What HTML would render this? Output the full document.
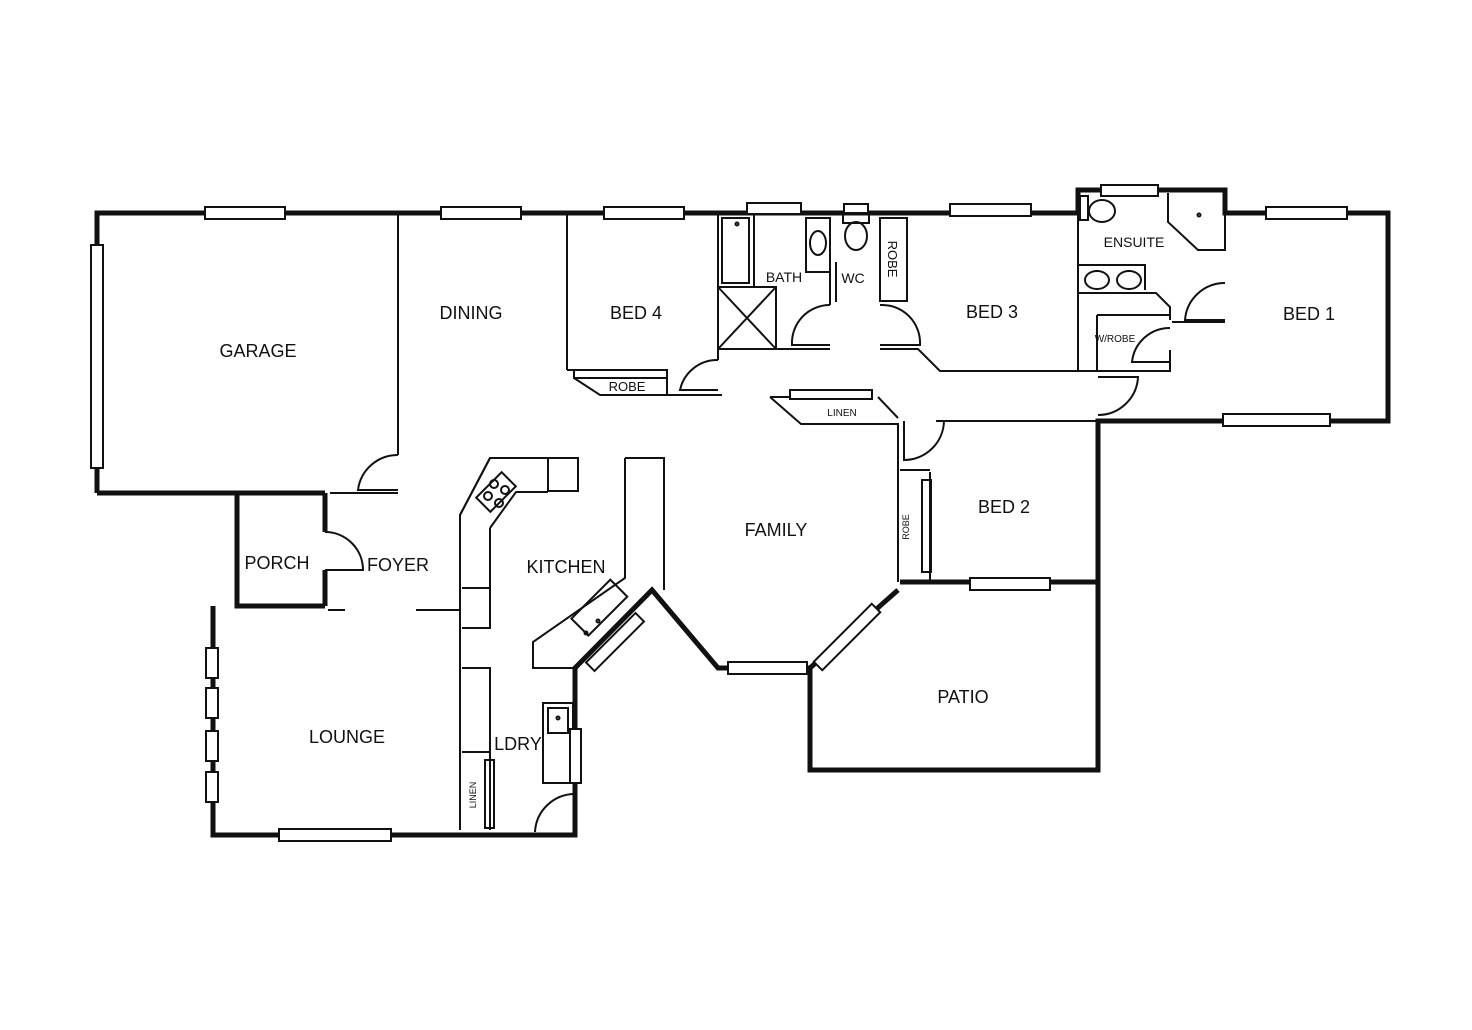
<!DOCTYPE html>
<html><head><style>
html,body{margin:0;padding:0;background:#fff;}
svg{display:block}
text{font-family:"Liberation Sans",sans-serif;fill:#111;}
</style></head><body>
<svg width="1472" height="1030" viewBox="0 0 1472 1030" xmlns="http://www.w3.org/2000/svg">
<g fill="none" stroke="#111" stroke-width="5" stroke-linejoin="miter">
<!-- exterior -->
<polyline points="97,493 97,213 1078,213 1078,190 1225,190 1225,213 1388,213 1388,421 1098,421 1098,770 810,770 810,668"/>
<line x1="97" y1="493" x2="325" y2="493"/>
<polyline points="237,493 237,606 325,606"/>
<line x1="325" y1="493" x2="325" y2="532"/>
<line x1="325" y1="570" x2="325" y2="606"/>
<polyline points="213,606 213,835 575,835 575,668 652,590 718,668 810,668 898,590"/>
<line x1="900" y1="582" x2="1098" y2="582"/>
</g>
<g fill="none" stroke="#111" stroke-width="2">
<!-- interior walls -->
<line x1="398" y1="213" x2="398" y2="455"/>
<path d="M398,455 A40,40 0 0 0 358,490 L398,490"/>
<line x1="330" y1="493" x2="398" y2="493"/>
<line x1="567" y1="213" x2="567" y2="370"/>
<polyline points="567,370 667,370 667,378"/>
<polyline points="574,378 600,395 722,395"/>
<line x1="600" y1="378" x2="667" y2="378"/>
<polyline points="667,395 667,378"/>
<line x1="718" y1="213" x2="718" y2="360"/>
<path d="M718,360 A38,38 0 0 0 680,390 L718,390"/>
<!-- bath -->
<rect x="722" y="218" width="27" height="65"/>
<circle cx="737" cy="224" r="1.5"/>
<rect x="718" y="287" width="58" height="62"/>
<line x1="718" y1="287" x2="776" y2="349"/><line x1="776" y1="287" x2="718" y2="349"/>
<line x1="754" y1="213" x2="754" y2="287"/>
<polyline points="718,349 830,349"/>
<rect x="806" y="218" width="24" height="54" /><ellipse cx="818" cy="243" rx="8" ry="12"/>
<line x1="830" y1="218" x2="830" y2="305"/>
<line x1="836" y1="262" x2="836" y2="302"/>
<path d="M830,305 A38,38 0 0 0 792,345 L830,345"/>
<ellipse cx="856" cy="236" rx="11" ry="14"/>
<rect x="843" y="213" width="26" height="10"/>
<rect x="880" y="218" width="27" height="83"/>
<path d="M880,305 A38,38 0 0 1 920,345 L880,345"/>
<polyline points="880,349 918,349 940,371 1170,371 1170,350"/>
<line x1="1078" y1="213" x2="1078" y2="371"/>
<rect x="1080" y="196" width="8" height="24"/><ellipse cx="1102" cy="211" rx="13" ry="11"/>
<polyline points="1078,265 1145,265 1145,290"/>
<ellipse cx="1097" cy="280" rx="12" ry="9"/><ellipse cx="1129" cy="280" rx="12" ry="9"/>
<polyline points="1078,293 1156,293 1170,307 1170,320"/>
<polyline points="1097,315 1170,315"/>
<line x1="1097" y1="315" x2="1097" y2="370"/>
<path d="M1170,328 A38,38 0 0 0 1132,362 L1170,362"/>
<polyline points="1168,193 1168,222 1198,250 1225,250 1225,213"/>
<circle cx="1199" cy="215" r="1.5"/>
<path d="M1225,283 A40,40 0 0 0 1185,320 L1225,320"/>
<line x1="1172" y1="322" x2="1225" y2="322"/>
<path d="M1098,377 L1138,377 A40,40 0 0 1 1098,415"/>
<!-- linen -->
<polyline points="770,397 801,424 898,424 898,582"/>
<polyline points="878,397 898,418"/>
<line x1="770" y1="397" x2="790" y2="397"/>
<polyline points="936,421 1098,421"/>
<path d="M904,421 L904,460 A40,40 0 0 0 944,421"/>
<rect x="922" y="480" width="9" height="92"/>
<line x1="900" y1="470" x2="930" y2="470"/>
<line x1="930" y1="472" x2="930" y2="580"/>
<!-- foyer/porch -->
<path d="M325,532 A38,38 0 0 1 363,570 L325,570"/>
<line x1="328" y1="610" x2="345" y2="610"/>
<line x1="416" y1="610" x2="460" y2="610"/>
<!-- kitchen -->
<polyline points="460,830 460,515 490,458 548,458 548,491 578,491 578,458 548,458"/>
<polyline points="490,458 460,515"/>
<polyline points="490,528 490,628 462,628"/>
<polyline points="490,528 516,492 548,492"/>
<line x1="462" y1="588" x2="490" y2="588"/>
<polyline points="462,668 490,668 490,830"/>
<line x1="462" y1="752" x2="490" y2="752"/>
<rect x="485" y="760" width="9" height="68"/>
<polyline points="625,458 664,458 664,590"/>
<polyline points="625,458 625,578 533,642 533,668 575,668"/>
<rect x="572" y="596" width="55" height="24" transform="rotate(-45 599 608)"/>
<circle cx="586" cy="633" r="1.5"/><circle cx="598" cy="621" r="1.5"/>
<rect x="478" y="482" width="36" height="20" transform="rotate(-45 496 492)"/>
<circle cx="494" cy="484" r="4"/><circle cx="505" cy="490" r="4"/><circle cx="488" cy="496" r="4"/><circle cx="499" cy="503" r="4"/>
<rect x="543" y="703" width="30" height="80"/>
<rect x="548" y="708" width="20" height="25"/><circle cx="558" cy="718" r="1.5"/>
<path d="M575,794 A40,40 0 0 0 535,832"/>
<line x1="575" y1="796" x2="575" y2="832"/>
</g>
<g fill="#fff" stroke="#111" stroke-width="2">
<!-- windows -->
<rect x="205" y="207" width="80" height="12"/>
<rect x="441" y="207" width="80" height="12"/>
<rect x="604" y="207" width="80" height="12"/>
<rect x="747" y="203" width="54" height="11"/>
<rect x="950" y="204" width="81" height="12"/>
<rect x="1101" y="185" width="57" height="11"/>
<rect x="1266" y="207" width="81" height="12"/>
<rect x="1223" y="414" width="107" height="12"/>
<rect x="91" y="245" width="12" height="223"/>
<rect x="790" y="390" width="82" height="9"/>
<rect x="970" y="578" width="80" height="12"/>
<rect x="728" y="662" width="79" height="12"/>
<rect x="841" y="596" width="12" height="82" transform="rotate(45 847 637)"/>
<rect x="609" y="607" width="12" height="70" transform="rotate(45 615 642)"/>
<rect x="206" y="648" width="12" height="30"/>
<rect x="206" y="688" width="12" height="30"/>
<rect x="206" y="731" width="12" height="30"/>
<rect x="206" y="772" width="12" height="30"/>
<rect x="279" y="829" width="112" height="12"/>
<rect x="570" y="729" width="11" height="54"/>
<rect x="844" y="204" width="24" height="9"/>
<rect x="574" y="370" width="93" height="8" fill="none"/>
</g>
<g font-size="18" text-anchor="middle">
<text x="258" y="357">GARAGE</text>
<text x="471" y="319">DINING</text>
<text x="636" y="319">BED 4</text>
<text x="992" y="318">BED 3</text>
<text x="1309" y="320">BED 1</text>
<text x="1004" y="513">BED 2</text>
<text x="776" y="536">FAMILY</text>
<text x="277" y="569">PORCH</text>
<text x="398" y="571">FOYER</text>
<text x="566" y="573">KITCHEN</text>
<text x="347" y="743">LOUNGE</text>
<text x="518" y="750">LDRY</text>
<text x="963" y="703">PATIO</text>
</g>
<g font-size="14" text-anchor="middle">
<text x="784" y="282">BATH</text>
<text x="853" y="283">WC</text>
<text x="1134" y="247">ENSUITE</text>
<text x="627" y="391" font-size="13">ROBE</text>
<text x="842" y="416" font-size="10">LINEN</text>
<text x="1115" y="342" font-size="10">W/ROBE</text>
<text transform="translate(888,259) rotate(90)" font-size="13">ROBE</text>
<text transform="translate(909,527) rotate(-90)" font-size="9">ROBE</text>
<text transform="translate(476,795) rotate(-90)" font-size="9">LINEN</text>
</g>
</svg>
</body></html>
